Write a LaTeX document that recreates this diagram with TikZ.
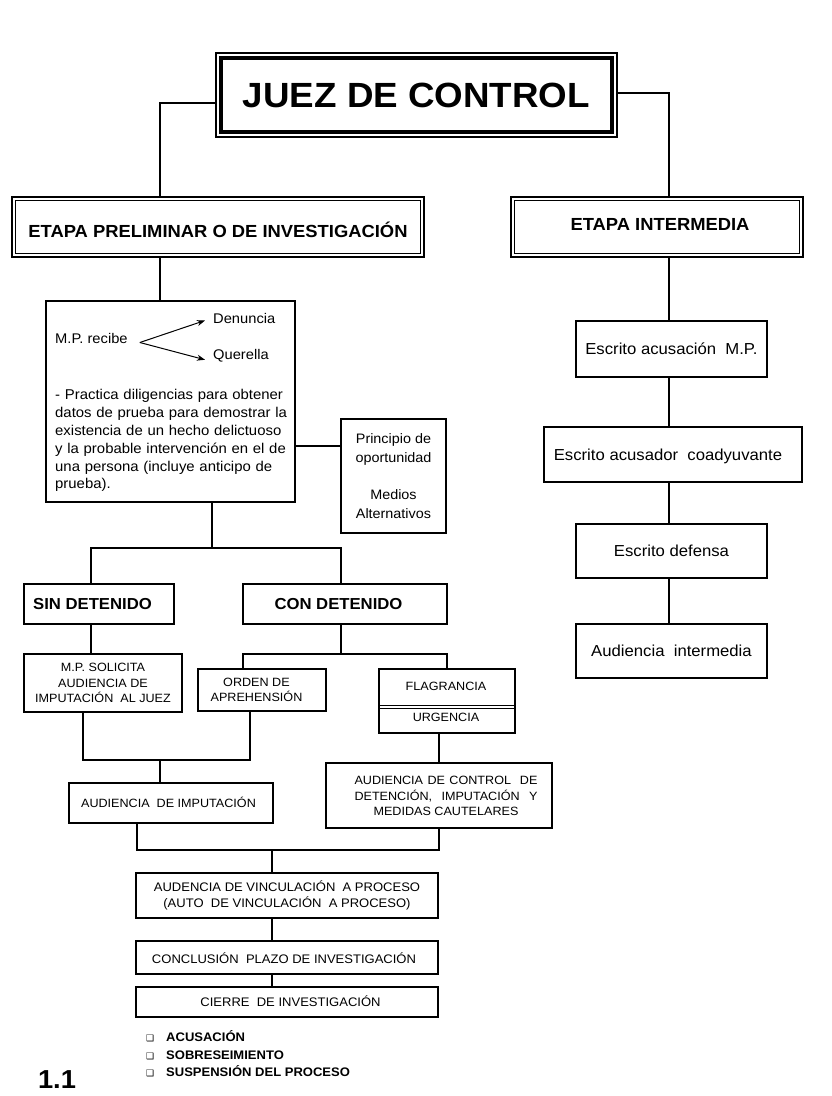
\documentclass[tikz,border=0pt]{standalone}
\usepackage{fontspec}
\setmainfont[FakeStretch=1.05]{Liberation Sans}
\newfontfamily\dejavu{DejaVu Sans}
\usetikzlibrary{arrows.meta,calc}
\newcommand\fsz[2]{\fontsize{#1}{#2}\selectfont}
\begin{document}
\begin{tikzpicture}[x=1pt,y=-1pt,
  box/.style={draw,line width=1.1pt,inner sep=0pt,align=center},
  conn/.style={line width=1.1pt},
  txt/.style={inner sep=0pt,align=center},
  arr/.style={line width=1pt,-{Stealth[length=8pt,width=6pt]}},
  small/.style={font=\fsz{12}{15.5}},
  mid/.style={font=\fsz{15.9}{18}}]
\useasboundingbox[fill=white] (0,0) rectangle (831,1096);

% title
\node[box,minimum width=401pt,minimum height=84pt,font=\bfseries\fsz{35}{40}] (juez) at (416.5,95) {JUEZ DE CONTROL};
\draw[line width=4.5pt] ([shift={(5.5pt,-5.5pt)}]juez.north west) rectangle ([shift={(-5.5pt,5.5pt)}]juez.south east);

% stage boxes
\node[box,minimum width=412pt,minimum height=60pt] (etapa1) at (218,227) {};
\draw[line width=1.8pt] ([shift={(4pt,-4pt)}]etapa1.north west) rectangle ([shift={(-4pt,4pt)}]etapa1.south east);
\node[txt,anchor=base,font=\bfseries\fsz{17.5}{20}] (etapa1t) at (218,237.3) {ETAPA PRELIMINAR O DE INVESTIGACIÓN};

\node[box,minimum width=292pt,minimum height=60pt] (etapa2) at (657,227) {};
\draw[line width=1.8pt] ([shift={(4pt,-4pt)}]etapa2.north west) rectangle ([shift={(-4pt,4pt)}]etapa2.south east);
\node[txt,anchor=base,font=\bfseries\fsz{17.5}{20}] (etapa2t) at (660,230.3) {ETAPA INTERMEDIA};

% M.P. box
\node[box,minimum width=249pt,minimum height=201pt] (mp) at (170.5,401.5) {};
\node[txt,anchor=base west,font=\fsz{14}{16}] (mprec) at (55,343.5) {M.P. recibe};
\node[txt,anchor=base west,font=\fsz{14}{16}] (den) at (213,323.5) {Denuncia};
\node[txt,anchor=base west,font=\fsz{14}{16}] (que) at (213,359.5) {Querella};
\coordinate (fork) at ([xshift=12pt,yshift=-4pt]mprec.east);
\draw[arr] (fork) -- ([xshift=-8pt,yshift=-2pt]den.west);
\draw[arr] (fork) -- ([xshift=-8pt,yshift=-4pt]que.west);
\node[txt,anchor=north west,text width=232pt,align=left,font=\fsz{14.2}{17.9}] (par) at (55,389) {%
\makebox[232pt][s]{- Practica diligencias para obtener}\\
\makebox[232pt][s]{datos de prueba para demostrar la}\\
\makebox[232pt][s]{existencia de un hecho delictuoso}\\
\makebox[232pt][s]{y la probable intervención en el de}\\
\makebox[232pt][s]{una persona (incluye anticipo de}\\
prueba).};

\node[box,minimum width=105pt,minimum height=114pt,font=\fsz{13.7}{18.7}] (pri) at (393.5,476) {Principio de\\oportunidad\\[18.7pt]Medios\\Alternativos};

% sin / con detenido
\node[box,minimum width=150pt,minimum height=40pt] (sin) at (99,604) {};
\node[txt,font=\bfseries\fsz{15.9}{18}] (sint) at (92.5,604) {SIN DETENIDO};
\node[box,minimum width=204pt,minimum height=40pt] (con) at (345,604) {};
\node[txt,font=\bfseries\fsz{15.9}{18}] (cont) at (338.5,604) {CON DETENIDO};

\node[box,minimum width=158pt,minimum height=58pt,small] (mpsol) at (103,683) {M.P. SOLICITA\\AUDIENCIA DE\\IMPUTACIÓN\ \ AL JUEZ};
\node[box,minimum width=128pt,minimum height=42pt] (orden) at (262,690) {};
\node[txt,small] (ordent) at (256.5,690) {ORDEN DE\\APREHENSIÓN};
\node[box,minimum width=136pt,minimum height=64pt] (flag) at (447,701) {};
\draw[line width=1pt] (flag.west |- 0,705) -- (flag.east |- 0,705);
\draw[line width=1pt] (flag.west |- 0,708.5) -- (flag.east |- 0,708.5);
\node[txt,small] (flagt) at (446,686) {FLAGRANCIA};
\node[txt,small] (urgt) at (446,717.5) {URGENCIA};

\node[box,minimum width=204pt,minimum height=40pt] (audimp) at (171,803) {};
\node[txt,small] (audimpt) at (168.5,802.5) {AUDIENCIA\ \ DE IMPUTACIÓN};
\node[box,minimum width=226pt,minimum height=65pt] (audctrl) at (439,795.5) {};
\node[txt,small] (audctrlt) at (446,796) {\makebox[183pt][s]{AUDIENCIA DE CONTROL\ \ DE}\\\makebox[183pt][s]{DETENCIÓN,\ \ IMPUTACIÓN\ \ Y}\\MEDIDAS CAUTELARES};

\node[box,minimum width=302pt,minimum height=45pt,font=\fsz{12.4}{16}] (vinc) at (287,895.5) {AUDENCIA DE VINCULACIÓN\ \ A PROCESO\\(AUTO\ \ DE VINCULACIÓN\ \ A PROCESO)};
\node[box,minimum width=302pt,minimum height=33pt] (concl) at (287,957.5) {};
\node[txt,font=\fsz{12.4}{15}] (conclt) at (284,958.5) {CONCLUSIÓN\ \ PLAZO DE INVESTIGACIÓN};
\node[box,minimum width=302pt,minimum height=30pt] (cierre) at (287,1002) {};
\node[txt,font=\fsz{12.4}{15}] (cierret) at (290.5,1001.5) {CIERRE\ \ DE INVESTIGACIÓN};

% outcomes
\node[txt,anchor=base west,font=\bfseries\fsz{12.4}{15}] (b1) at (146,1041) {\makebox[20pt][l]{\dejavu\fontsize{9}{10}\selectfont ❑}ACUSACIÓN};
\node[txt,anchor=base west,font=\bfseries\fsz{12.4}{15}] (b2) at (146,1059) {\makebox[20pt][l]{\dejavu\fontsize{9}{10}\selectfont ❑}SOBRESEIMIENTO};
\node[txt,anchor=base west,font=\bfseries\fsz{12.4}{15}] (b3) at (146,1076.5) {\makebox[20pt][l]{\dejavu\fontsize{9}{10}\selectfont ❑}SUSPENSIÓN DEL PROCESO};
\node[txt,font=\bfseries\fsz{26}{30}] (num) at (57,1080) {1.1};

% right column
\node[box,minimum width=191pt,minimum height=56pt,mid] (esc1) at (671.5,349) {Escrito acusación\ \ M.P.};
\node[box,minimum width=258pt,minimum height=55pt] (esc2) at (673,454.5) {};
\node[txt,mid] (esc2t) at (668,456) {Escrito acusador\ \ coadyuvante};
\node[box,minimum width=191pt,minimum height=54pt,mid] (esc3) at (671.5,551) {Escrito defensa};
\node[box,minimum width=191pt,minimum height=54pt,mid] (esc4) at (671.5,651) {Audiencia\ \ intermedia};

% connectors
\coordinate (L160) at (160,0);
\coordinate (R669) at (669,0);
\draw[conn] ([yshift=-8pt]juez.west) -| (etapa1.north -| L160);
\draw[conn] ([yshift=2pt]juez.east) -| (etapa2.north -| R669);
\draw[conn] (etapa1.south -| L160) -- (mp.north -| L160);
\draw[conn] (etapa2.south -| R669) -- (esc1.north -| R669);
\draw[conn] (esc1.south -| R669) -- (esc2.north -| R669);
\draw[conn] (esc2.south -| R669) -- (esc3.north -| R669);
\draw[conn] (esc3.south -| R669) -- (esc4.north -| R669);

\coordinate (ymp) at (0,446);
\draw[conn] (mp.east |- ymp) -- (pri.west |- ymp);

\coordinate (s1) at (212,548);
\coordinate (s1l) at (91,548);
\coordinate (s1r) at (341,548);
\draw[conn] (mp.south -| s1) -- (s1);
\draw[conn] (sin.north -| s1l) |- (s1r) -- (con.north -| s1r);
\draw[conn] (sin.south -| s1l) -- (mpsol.north -| s1l);

\coordinate (s2) at (341,654);
\coordinate (s2l) at (243,654);
\coordinate (s2r) at (447,654);
\draw[conn] (con.south -| s2) -- (s2);
\draw[conn] (orden.north -| s2l) |- (s2r) -- (flag.north -| s2r);

\coordinate (s3) at (160,760);
\coordinate (s3l) at (83,760);
\coordinate (s3r) at (250,760);
\draw[conn] (mpsol.south -| s3l) |- (s3r) -- (orden.south -| s3r);
\draw[conn] (s3) -- (audimp.north -| s3);

\coordinate (x439) at (439,0);
\draw[conn] (flag.south -| x439) -- (audctrl.north -| x439);

\coordinate (s4) at (272,850);
\coordinate (s4l) at (137,850);
\coordinate (s4r) at (439,850);
\draw[conn] (audimp.south -| s4l) |- (s4r) -- (audctrl.south -| s4r);
\draw[conn] (s4) -- (vinc.north -| s4);
\draw[conn] (vinc.south -| s4) -- (concl.north -| s4);
\draw[conn] (concl.south -| s4) -- (cierre.north -| s4);
\end{tikzpicture}
\end{document}
